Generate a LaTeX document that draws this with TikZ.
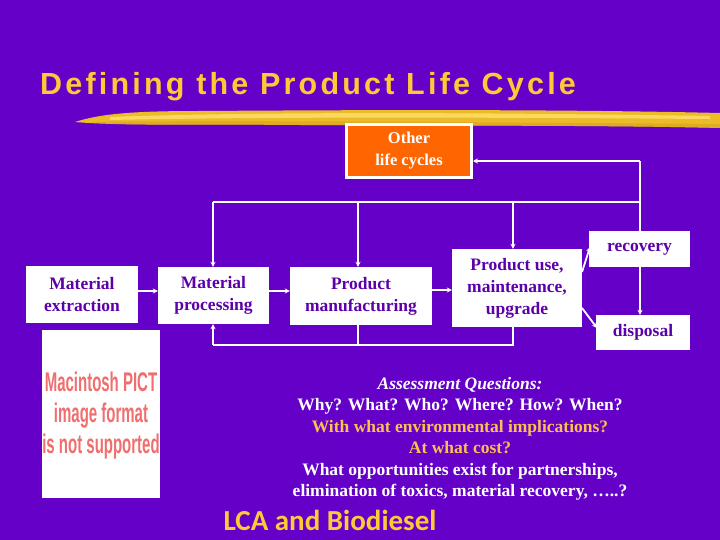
\documentclass[tikz,border=0pt]{standalone}
\usepackage{fontspec}
\setmainfont{Liberation Serif}
\newfontfamily\titlefont{Liberation Sans}
\newfontfamily\titlespaced{Liberation Sans}[LetterSpace=10.5]
\newfontfamily\pictfont{Liberation Sans}[FakeStretch=0.555]
\newfontfamily\footfont{Carlito}
\usetikzlibrary{arrows.meta}
\definecolor{bgpurple}{RGB}{100,0,200}
\definecolor{titleyellow}{RGB}{255,200,56}
\definecolor{boxtext}{RGB}{92,0,170}
\definecolor{otherorange}{RGB}{255,102,0}
\definecolor{qorange}{RGB}{255,190,80}
\definecolor{pictred}{RGB}{240,110,110}
\definecolor{brushA}{RGB}{235,188,40}
\definecolor{brushB}{RGB}{255,225,110}
\definecolor{brushC}{RGB}{215,160,30}
\tikzset{
  wbox/.style={fill=white, inner sep=0pt, text=boxtext, align=center,
    font=\bfseries\fontsize{17.5}{22}\selectfont},
  conn/.style={draw=white, line width=1.8pt},
  arr/.style={conn, -{Stealth[length=5pt,width=5pt]}},
  qtext/.style={align=center, font=\bfseries\fontsize{17.5}{21.6}\selectfont},
  picttxt/.style={text=pictred, inner sep=0pt, anchor=base, font=\pictfont\bfseries\fontsize{27}{31.5}\selectfont}
}
\begin{document}
\begin{tikzpicture}[x=1pt,y=-1pt]
\useasboundingbox (0,0) rectangle (720,540);
\fill[bgpurple] (0,0) rectangle (720,540);
% title
\node[anchor=base west, inner sep=0pt, text=titleyellow, font=\titlespaced\bfseries\fontsize{30.5}{36}\selectfont] (title) at (40,95) {Defining the Product Life Cycle};
% brush stroke
\fill[brushA] (75,122) .. controls (100,114) and (130,111) .. (200,111)
  .. controls (350,110) and (550,109) .. (720,113) -- (720,128)
  .. controls (600,125) and (450,126) .. (300,125)
  .. controls (200,124) and (120,126) .. (75,122) -- cycle;
\fill[brushC, opacity=0.6] (90,122) .. controls (200,120) and (450,122) .. (720,124)
  -- (720,128) .. controls (600,125) and (450,126) .. (300,125)
  .. controls (200,124) and (120,126) .. (90,122) -- cycle;
\fill[brushB, opacity=0.8] (110,117) .. controls (250,112) and (450,112) .. (710,116)
  -- (710,119) .. controls (450,117) and (250,117) .. (110,120) -- cycle;
% other life cycles
\node[fill=otherorange, draw=white, line width=3pt, inner sep=0pt,
  minimum width=125pt, minimum height=53pt, text=white, align=center,
  font=\bfseries\fontsize{16.5}{22}\selectfont] (other) at (409,151) {Other\\life cycles};
% boxes
\node[wbox, minimum width=112pt, minimum height=57pt] (mex) at (82,294.5) {Material\\extraction};
\node[wbox, minimum width=111pt, minimum height=57pt] (mpr) at (213.5,295.5) {Material\\processing};
\node[wbox, minimum width=142pt, minimum height=58pt] (pma) at (361,296) {Product\\manufacturing};
\node[wbox, minimum width=130pt, minimum height=78pt] (puse) at (517,288) {Product use,\\maintenance,\\upgrade};
\node[wbox, minimum width=101pt, minimum height=36pt] (rec) at (639.5,249) {recovery};
\node[wbox, minimum width=94pt, minimum height=35pt] (dis) at (643,332.5) {disposal};
% coordinates
\coordinate (ctop) at (640,202);
\coordinate (cother) at (640,161);
\coordinate (tmpr) at (213,202);
\coordinate (tpma) at (358,202);
\coordinate (tpuse) at (513,202);
\coordinate (bpuse) at (513,345);
\coordinate (bpma) at (358,345);
\coordinate (bmpr) at (213,345);
% forward arrows
\draw[arr] (mex.east |- 0,291) -- (mpr.west |- 0,291);
\draw[arr] (mpr.east |- 0,291) -- (pma.west |- 0,291);
\draw[arr] (pma.east |- 0,290) -- (puse.west |- 0,290);
% recovery loop
\draw[conn] (rec.north -| ctop) -- (cother);
\draw[arr] (cother) -- (other.east |- cother);
\draw[conn] (ctop) -- (tmpr);
\draw[arr] (tmpr) -- (mpr.north -| tmpr);
\draw[arr] (tpma) -- (pma.north -| tpma);
\draw[arr] (tpuse) -- (puse.north -| tpuse);
\draw[arr] (rec.south -| ctop) -- (dis.north -| ctop);
% bottom loop
\draw[conn] (puse.south -| bpuse) -- (bpuse) -- (bmpr);
\draw[conn] (pma.south -| bpma) -- (bpma);
\draw[arr] (bmpr) -- (mpr.south -| bmpr);
% diagonals
\draw[arr] (582,272) -- (590,247);
\draw[arr] (582,308) -- (597,328);
% PICT placeholder
\node[fill=white, inner sep=0pt, minimum width=118pt, minimum height=168pt] (pict) at (101,414) {};
\node[picttxt] (pict1) at (101,391) {Macintosh PICT};
\node[picttxt] (pict2) at (101,422) {image format};
\node[picttxt] (pict3) at (101,453) {is not supported};
% questions
\node[qtext, text=white, font=\bfseries\itshape\fontsize{17.5}{21.6}\selectfont, anchor=base] (q1) at (460,389) {Assessment Questions:};
\node[qtext, text=white, anchor=base] (q2) at (460,410.5) {Why? What? Who? Where? How? When?};
\node[qtext, text=qorange, anchor=base] (q3) at (460,432) {With what environmental implications?};
\node[qtext, text=qorange, anchor=base] (q4) at (460,453.5) {At what cost?};
\node[qtext, text=white, anchor=base] (q5) at (460,475) {What opportunities exist for partnerships,};
\node[qtext, text=white, anchor=base] (q6) at (460,496.5) {elimination of toxics, material recovery, …..?};
% footer
\node[text=titleyellow, inner sep=0pt, font=\footfont\bfseries\fontsize{29}{34}\selectfont, anchor=base] (foot) at (330,530) {LCA and Biodiesel};
\end{tikzpicture}
\end{document}
